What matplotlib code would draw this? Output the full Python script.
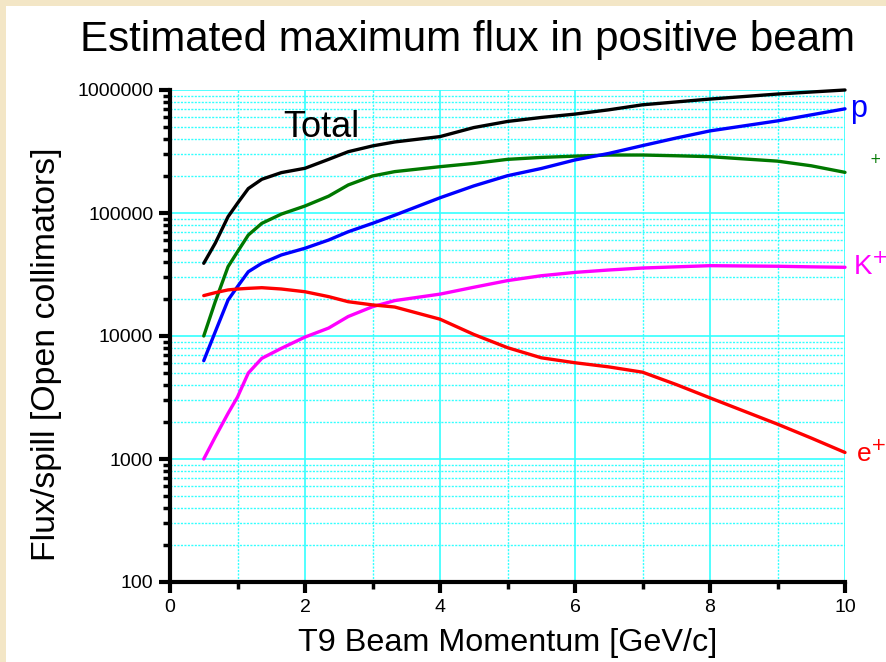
import matplotlib.pyplot as plt
from matplotlib.patches import Rectangle
from matplotlib.ticker import LogLocator, FixedLocator, NullFormatter

plt.rcParams['font.family'] = ['Liberation Sans', 'DejaVu Sans']

momentum = [0.5, 0.67, 0.86, 1.0, 1.16, 1.36, 1.65, 2.0, 2.35, 2.64, 3.0, 3.33,
            4.0, 4.5, 5.0, 5.5, 6.0, 6.5, 7.0, 7.5, 8.0, 9.0, 9.5, 10.0]

flux_total = [39000, 56800, 93300, 120000, 158000, 188000, 213000, 231000, 273000, 315000, 351000, 378000,
              418000, 495000, 555000, 598000, 637000, 690000, 758000, 800000, 844000, 927000, 963000, 1000000]
flux_pi = [10000, 19000, 36600, 48400, 66200, 82400, 98000, 114000, 137000, 169000, 200000, 217000,
           238000, 253000, 273000, 283000, 290000, 296000, 296000, 292000, 287000, 264000, 242000, 214000]
flux_p = [6300, 10800, 19600, 25200, 33300, 39000, 45600, 51700, 60300, 70400, 82400, 96000,
          133000, 166000, 201000, 230000, 270000, 305000, 353000, 407000, 465000, 561000, 628000, 703000]
flux_k = [1000, 1510, 2350, 3190, 5000, 6580, 7940, 9800, 11600, 14400, 17300, 19400,
          21900, 24900, 28200, 30900, 32900, 34400, 35700, 36500, 37300, 36900, 36500, 36200]
flux_e = [21300, 22500, 23700, 24100, 24400, 24700, 24100, 22900, 20900, 19000, 17900, 17200,
          13700, 10300, 8040, 6650, 6060, 5610, 5080, 4030, 3140, 1920, 1480, 1130]

fig = plt.figure(figsize=(8.87, 6.62), dpi=100, facecolor='#F3E6C6')
fig.patches.append(Rectangle((6 / 887, 0), 1, 1 - 6 / 662, transform=fig.transFigure,
                             facecolor='white', edgecolor='none', zorder=-10))

ax = fig.add_axes([170 / 887, 1 - 582 / 662, 675 / 887, 492 / 662])
ax.set_facecolor('none')

line_kw = dict(lw=2.4, solid_joinstyle='round', solid_capstyle='round', clip_on=False)
ax.plot(momentum, flux_total, color='black', **line_kw)
ax.plot(momentum, flux_pi, color='#007800', **line_kw)
ax.plot(momentum, flux_p, color='#0000FF', **line_kw)
ax.plot(momentum, flux_k, color='#FF00FF', **line_kw)
ax.plot(momentum, flux_e, color='#FF0000', **line_kw)

ax.set_yscale('log')
ax.set_xlim(0, 10)
ax.set_ylim(100, 1e6)
ax.yaxis.set_major_locator(FixedLocator([100, 1000, 10000, 100000, 1000000]))
ax.set_yticklabels(['100', '1000', '10000', '100000', '1000000'])
ax.yaxis.set_minor_locator(LogLocator(base=10, subs=range(2, 10)))
ax.yaxis.set_minor_formatter(NullFormatter())
ax.set_xticks([0, 2, 4, 6, 8, 10])
ax.set_xticks([1, 3, 5, 7, 9], minor=True)

ax.grid(True, which='major', color='#33FFFF', lw=1.2, ls='-')
ax.grid(True, which='minor', color='#33FFFF', lw=1.0, ls=(0, (1.5, 1)))
ax.set_axisbelow(True)

for s in ['top', 'right']:
    ax.spines[s].set_visible(False)
for s in ['left', 'bottom']:
    ax.spines[s].set_linewidth(3)
ax.tick_params(which='major', length=8, width=3, labelsize=14, pad=4)
ax.tick_params(which='minor', length=5, width=2.5)

fig.text(468 / 887, 1 - 51 / 662, 'Estimated maximum flux in positive beam',
         fontsize=30.3, ha='center', va='baseline')
ax.set_xlabel('T9 Beam Momentum [GeV/c]', fontsize=23.3, labelpad=9)
ax.set_ylabel('Flux/spill [Open collimators]', fontsize=24.4)
ax.yaxis.set_label_coords(-0.16, 0.463)

ax.text(1.68, 500000, 'Total', fontsize=26, color='black', va='center')
ax.text(10.08, 700000, 'p', fontsize=22, color='#0000FF', va='center', clip_on=False)
ax.text(10.35, 250000, '$^{+}$', fontsize=14, color='#007800', va='center', clip_on=False)
ax.text(10.12, 36000, 'K$^{+}$', fontsize=20, color='#FF00FF', va='center', clip_on=False,
        math_fontfamily='dejavusans')
ax.text(10.17, 1100, 'e$^{+}$', fontsize=19, color='#FF0000', va='center', clip_on=False)

fig.savefig('out.png', dpi=100, facecolor=fig.get_facecolor())
